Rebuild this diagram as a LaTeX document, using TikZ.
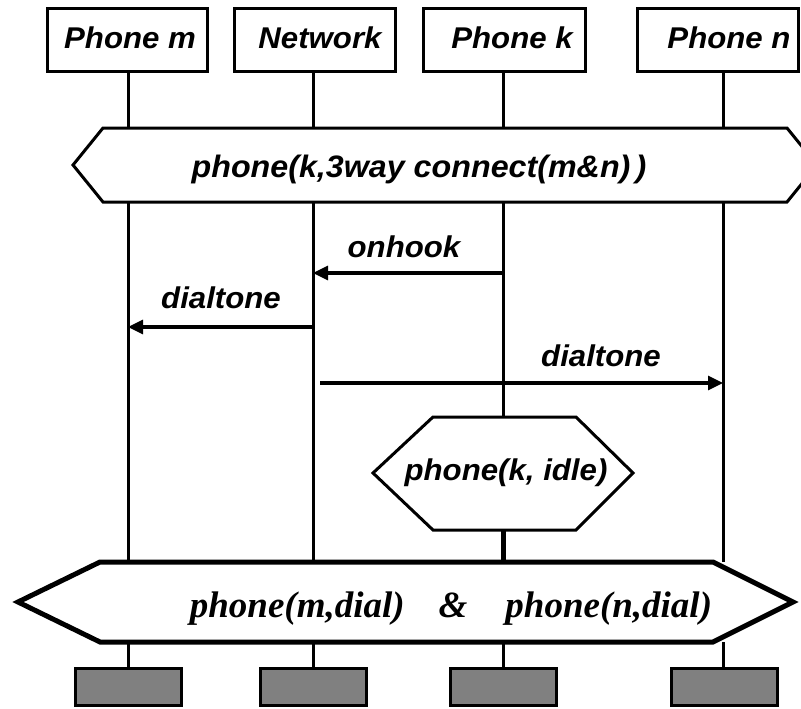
\documentclass[tikz,border=0pt]{standalone}
\usepackage{fontspec}
\usetikzlibrary{arrows.meta}
\newfontfamily\sanslab{Liberation Sans}[FakeStretch=1.04]
\newfontfamily\serlab{Liberation Serif}
\begin{document}
\begin{tikzpicture}[x=1pt,y=-1pt,
  hdrbox/.style={draw, line width=3pt, fill=white, minimum width=160pt, minimum height=63pt, inner sep=0pt},
  endbox/.style={draw, line width=3pt, fill=black!50, minimum width=106pt, minimum height=37pt, inner sep=0pt},
  lbl/.style={font=\sanslab\fontsize{30}{32}\selectfont\bfseries\itshape, inner sep=0pt, anchor=base},
  lifeline/.style={line width=3pt},
  msg/.style={line width=3.2pt, -{Triangle[length=15pt,width=14pt]}},
  hexa/.style={draw, line width=3pt, fill=white, line join=miter}]
\useasboundingbox (0,0) rectangle (801,709);
\clip (0,0) rectangle (801,709);
\fill[white] (0,0) rectangle (801,709);

% lifeline coordinates
\coordinate (m0) at (128,72);   \coordinate (m1) at (128,128);
\coordinate (m2) at (128,202);  \coordinate (m3) at (128,562);
\coordinate (m4) at (128,642);  \coordinate (m5) at (128,668);
\coordinate (w0) at (313,72);   \coordinate (w1) at (313,128);
\coordinate (w2) at (313,202);  \coordinate (w3) at (313,562);
\coordinate (w4) at (313,642);  \coordinate (w5) at (313,668);
\coordinate (k0) at (503,72);   \coordinate (k1) at (503,128);
\coordinate (k2) at (503,202);  \coordinate (k3) at (503,417);
\coordinate (k6) at (503,530);  \coordinate (k7) at (503,562);
\coordinate (k4) at (503,642);  \coordinate (k5) at (503,668);
\coordinate (n0) at (723,72);   \coordinate (n1) at (723,128);
\coordinate (n2) at (723,202);  \coordinate (n3) at (723,562);
\coordinate (n4) at (723,642);  \coordinate (n5) at (723,668);

\draw[lifeline] (m0) -- (m1) (m2) -- (m3) (m4) -- (m5);
\draw[lifeline] (w0) -- (w1) (w2) -- (w3) (w4) -- (w5);
\draw[lifeline] (k0) -- (k1) (k2) -- (k3) (k4) -- (k5);
\draw[line width=5pt] (k6) -- (k7);
\draw[lifeline] (n0) -- (n1) (n2) -- (n3) (n4) -- (n5);

% header boxes
\node[hdrbox] (bm) at (127,40.5) {};
\node[hdrbox, minimum width=161pt] (bw) at (314.5,40.5) {};
\node[hdrbox, minimum width=162pt] (bk) at (504,40.5) {};
\node[hdrbox, minimum width=161pt] (bn) at (717.5,40.5) {};
\node[lbl] (tm) at (130,49) {Phone m};
\node[lbl] (tw) at (320,49) {Network};
\node[lbl] (tk) at (512,49) {Phone k};
\node[lbl] (tn) at (729,49) {Phone n};

% top condition
\draw[hexa] (73,165) -- (103,128) -- (787,128) -- (817,165) -- (787,202) -- (103,202) -- cycle;
\node[lbl, font=\sanslab\fontsize{31}{32}\selectfont\bfseries\itshape] (top) at (419,177) {phone(k,3way connect(m\&n)\,)};

% messages
\coordinate (ka) at (503,273); \coordinate (wa) at (313,273);
\coordinate (wb) at (313,327); \coordinate (mb) at (128,327);
\coordinate (wc) at (320,383); \coordinate (nc) at (723,383);
\draw[msg] (ka) -- (wa);
\draw[msg] (wb) -- (mb);
\draw[msg] (wc) -- (nc);
\node[lbl] (l1) at (404,257) {onhook};
\node[lbl] (l2) at (221,308) {dialtone};
\node[lbl] (l3) at (601,366) {dialtone};

% idle condition
\draw[hexa] (373,473) -- (433,417) -- (576,417) -- (633,473) -- (576,530) -- (433,530) -- cycle;
\node[lbl] (idle) at (506,480) {phone(k, idle)};

% bottom condition
\draw[hexa, line width=5pt] (18,602) -- (100,562) -- (713,562) -- (793,602) -- (713,642) -- (100,642) -- cycle;
\node[font=\serlab\fontsize{37}{40}\selectfont\bfseries\itshape, inner sep=0pt, anchor=base] (bot) at (451,617)
  {phone(m,dial)\hspace{34pt}\&\hspace{38pt}phone(n,dial)};

% end boxes
\node[endbox] (em) at (128,686.5) {};
\node[endbox] (ew) at (313,686.5) {};
\node[endbox] (ek) at (503,686.5) {};
\node[endbox] (en) at (724.5,686.5) {};
\end{tikzpicture}
\end{document}
